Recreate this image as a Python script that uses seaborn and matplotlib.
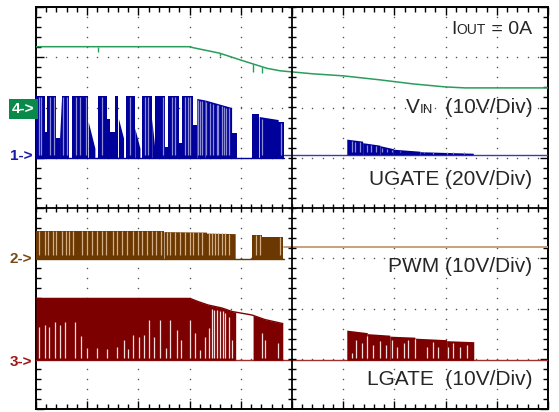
import numpy as np
import matplotlib
matplotlib.use('Agg')
import matplotlib.pyplot as plt
import seaborn as sns

# all values in scope divisions: x 0..10, y -4..4
vin_x = [0, 3.01, 3.07, 3.59, 3.98, 4.51, 4.77, 5.41, 6.00, 6.72, 7.36, 7.99, 8.38, 10]
vin_y = [3.21, 3.21, 3.19, 3.08, 2.95, 2.78, 2.73, 2.67, 2.63, 2.55, 2.47, 2.41, 2.39, 2.39]
vin_glitch_x = [1.21, 3.60, 4.24, 4.41]
vin_glitch_y = [3.10, 3.03, 2.71, 2.69]

# (x start, x end, top at start, top at end)
ugate_base = 1.0
ugate_blocks = [
    (0.00, 0.18, 2.23, 2.23), (0.18, 0.22, 1.52, 1.52), (0.22, 0.39, 2.23, 2.23),
    (0.39, 0.46, 1.39, 1.39), (0.46, 0.50, 1.39, 2.23), (0.50, 0.65, 2.23, 2.23),
    (0.70, 1.02, 2.23, 2.23), (1.02, 1.15, 1.72, 1.19), (1.22, 1.38, 2.23, 2.23),
    (1.38, 1.45, 1.78, 1.78), (1.45, 1.54, 1.52, 1.52), (1.54, 1.61, 2.23, 2.23),
    (1.61, 1.71, 1.78, 1.39), (1.76, 1.93, 2.23, 2.23), (1.93, 2.03, 1.59, 1.19),
    (2.08, 2.26, 2.23, 2.23), (2.26, 2.32, 1.78, 1.19), (2.32, 2.52, 2.23, 2.23),
    (2.52, 2.58, 1.22, 1.22), (2.58, 2.79, 2.23, 2.23), (2.79, 2.85, 1.30, 1.30),
    (2.85, 3.07, 2.23, 2.23), (3.07, 3.14, 1.65, 1.65), (3.14, 3.30, 2.18, 2.15),
    (3.30, 3.82, 2.15, 2.00), (3.82, 3.92, 1.49, 1.49), (4.21, 4.36, 1.88, 1.88),
    (4.36, 4.73, 1.82, 1.76), (4.73, 4.84, 1.72, 1.72),
]
ugate_stripes = [0.05, 0.10, 0.27, 0.35, 0.53, 0.60, 0.79, 0.86, 0.98, 1.28, 1.84, 2.13,
                 2.19, 2.49, 2.65, 2.71, 2.91, 2.96, 3.01, 3.17, 3.20, 3.25, 3.33, 3.40,
                 3.46, 3.53, 3.56, 3.63, 3.68, 3.72, 3.76, 4.42, 4.79]
ugate_r_base = 1.06
ugate_r_blocks = [(6.07, 6.38, 1.37, 1.33), (6.38, 6.72, 1.30, 1.25), (6.72, 6.98, 1.24, 1.18),
                  (6.98, 7.50, 1.17, 1.13), (7.50, 8.54, 1.12, 1.09)]
ugate_r_stripes = [6.17, 6.23, 6.33, 6.47, 6.55, 6.65, 6.75, 6.85, 6.95, 7.11, 7.24, 7.37,
                   7.57, 7.76, 8.02, 8.15, 8.35]

pwm_base = -1.02
pwm_blocks = [(0.00, 2.50, -0.46, -0.46), (2.50, 3.33, -0.47, -0.48), (3.33, 3.89, -0.50, -0.51),
              (4.22, 4.42, -0.54, -0.54), (4.42, 4.83, -0.57, -0.57)]
pwm_stripes = [0.05, 0.18, 0.24, 0.34, 0.40, 0.50, 0.59, 0.65, 0.73, 0.89, 1.00, 1.09, 1.19,
               1.28, 1.37, 1.51, 1.59, 1.67, 1.78, 1.90, 2.00, 2.08, 2.16, 2.26, 2.34, 2.45,
               2.55, 2.62, 2.71, 2.81, 2.91, 3.01, 3.07, 3.17, 3.24, 3.37, 3.43, 3.50, 3.56,
               3.63, 3.69, 3.76, 4.30, 4.37, 4.77]
pwm_r_level = -0.77

lgate_base = -3.03
lgate_top_x = [0, 3.01, 3.16, 3.36, 3.63, 3.83, 4.22, 4.47, 4.82]
lgate_top_y = [-1.80, -1.80, -1.86, -1.93, -1.99, -2.06, -2.13, -2.22, -2.30]
lgate_spans = [(0.0, 3.90), (4.24, 4.82)]
lgate_stripe_x = [0.05, 0.18, 0.26, 0.37, 0.47, 0.57, 0.77, 0.87, 0.99, 1.19, 1.39, 1.59,
                  1.71, 1.79, 1.90, 2.01, 2.10, 2.21, 2.31, 2.42, 2.54, 2.62, 2.75, 2.83,
                  3.01, 3.10, 3.20, 3.30, 3.37, 3.43, 3.48, 3.53, 3.59, 3.66, 3.70, 3.77,
                  3.82, 4.41, 4.47, 4.73]
lgate_stripe_y = [-2.36, -2.33, -2.36, -2.26, -2.33, -2.26, -2.27, -2.55, -2.79, -2.79, -2.81,
                  -2.77, -2.63, -2.81, -2.53, -2.56, -2.53, -2.23, -2.56, -2.23, -2.79, -2.23,
                  -2.43, -2.63, -2.23, -2.49, -2.83, -2.56, -2.39, -2.00, -2.02, -2.02, -2.04,
                  -2.05, -2.09, -2.16, -2.63, -2.49, -2.63, -2.69]
lgate_r_blocks = [(6.07, 6.47, -2.43, -2.48), (6.47, 6.91, -2.50, -2.53), (6.91, 7.40, -2.55, -2.57),
                  (7.40, 8.02, -2.59, -2.62), (8.02, 8.55, -2.64, -2.66)]
lgate_r_stripe_x = [6.18, 6.25, 6.36, 6.47, 6.59, 6.72, 6.84, 6.95, 7.06, 7.18, 7.27, 7.40,
                    7.63, 7.76, 7.86, 8.05, 8.15, 8.28, 8.41]
lgate_r_stripe_y = [-2.89, -2.62, -2.69, -2.55, -2.72, -2.65, -2.72, -2.62, -2.76, -2.69, -2.62,
                    -2.60, -2.76, -2.66, -2.76, -2.76, -2.69, -2.76, -2.72]

blue, blue_lt = '#00009a', '#8c8cd6'
brown, brown_lt = '#6a3800', '#d2ad85'
red, red_lt = '#7d0000', '#f3dcdc'
green = '#2a9d5c'

sns.set_style('white')
plt.rcParams['font.family'] = ['Liberation Sans', 'DejaVu Sans']

fig = plt.figure(figsize=(5.59, 4.12), dpi=100)
ax = fig.add_axes([36 / 559, 3 / 412, 512 / 559, 402 / 412])
ax.set_xlim(0, 10)
ax.set_ylim(-4, 4)


def top_at(blocks, x):
    for x0, x1, t0, t1 in blocks:
        if x0 <= x <= x1:
            return t0 + (t1 - t0) * (x - x0) / (x1 - x0)
    return None


def draw_blocks(blocks, base, color):
    for x0, x1, t0, t1 in blocks:
        ax.fill_between([x0, x1], [base, base], [t0, t1], color=color, lw=0, zorder=3)


# grid dots
for gx in [1, 2, 3, 4, 6, 7, 8, 9]:
    ys = np.arange(-4, 4.001, 0.2)
    ax.scatter(np.full(len(ys), gx), ys, s=1.2, color='#555555', lw=0, zorder=1)
for gy in [-3, -2, -1, 1, 2, 3]:
    xs = np.arange(0, 10.001, 0.2)
    ax.scatter(xs, np.full(len(xs), gy), s=1.2, color='#555555', lw=0, zorder=1)

# center cross
ax.axvline(5, color='black', lw=1.3, zorder=5)
ax.axhline(0, color='black', lw=1.3, zorder=5)
cy = np.arange(-4, 4.001, 0.2)
cx = np.arange(0, 10.001, 0.2)
ax.plot(np.full(len(cy), 5), cy, ls='none', marker='_', ms=6, mew=1, color='black', zorder=5)
ax.plot(cx, np.zeros(len(cx)), ls='none', marker='|', ms=6, mew=1, color='black', zorder=5)

# VIN
sns.lineplot(x=vin_x, y=vin_y, ax=ax, color=green, lw=1.1, sort=False, estimator=None, zorder=4)
ax.vlines(vin_glitch_x, vin_glitch_y, np.interp(vin_glitch_x, vin_x, vin_y), color=green, lw=1, zorder=4)

# UGATE
sns.lineplot(x=[0, 4.84], y=[ugate_base, ugate_base], ax=ax, color=blue, lw=1, estimator=None, zorder=3)
sns.lineplot(x=[4.84, 10], y=[ugate_r_base, ugate_r_base], ax=ax, color='#3a3ab8', lw=1, estimator=None, zorder=3)
draw_blocks(ugate_blocks, ugate_base, blue)
draw_blocks(ugate_r_blocks, ugate_r_base, blue)
for blocks, stripes, base in [(ugate_blocks, ugate_stripes, ugate_base),
                              (ugate_r_blocks, ugate_r_stripes, ugate_r_base)]:
    for s in stripes:
        t = top_at(blocks, s)
        if t is not None:
            ax.vlines(s, base + 0.06, t - 0.03, color=blue_lt, lw=0.9, zorder=3.5)

# PWM
sns.lineplot(x=[0, 4.84], y=[pwm_base, pwm_base], ax=ax, color=brown, lw=1, estimator=None, zorder=3)
sns.lineplot(x=[4.84, 10], y=[pwm_r_level, pwm_r_level], ax=ax, color='#c39a70', lw=1.3, estimator=None, zorder=3)
draw_blocks(pwm_blocks, pwm_base, brown)
for s in pwm_stripes:
    t = top_at(pwm_blocks, s)
    if t is not None:
        ax.vlines(s, pwm_base + 0.08, t, color=brown_lt, lw=0.9, zorder=3.5)

# LGATE
sns.lineplot(x=[0, 10], y=[lgate_base, lgate_base], ax=ax, color='#a03030', lw=1, estimator=None, zorder=3)
sns.lineplot(x=lgate_top_x, y=lgate_top_y, ax=ax, color=red, lw=1, sort=False, estimator=None, zorder=3)
for a, b in lgate_spans:
    xs = np.array([a] + [v for v in lgate_top_x if a < v < b] + [b])
    ax.fill_between(xs, lgate_base, np.interp(xs, lgate_top_x, lgate_top_y), color=red, lw=0, zorder=3)
ax.vlines(lgate_stripe_x, lgate_base + 0.05, lgate_stripe_y, color=red_lt, lw=0.9, zorder=3.5)
draw_blocks(lgate_r_blocks, lgate_base, red)
ax.vlines(lgate_r_stripe_x, lgate_base + 0.05, lgate_r_stripe_y, color=red_lt, lw=0.9, zorder=3.5)

# frame and ticks
ax.set_xticks(np.arange(0, 10.01, 1))
ax.set_yticks(np.arange(-4, 4.01, 1))
ax.set_xticks(np.arange(0, 10.01, 0.2), minor=True)
ax.set_yticks(np.arange(-4, 4.01, 0.2), minor=True)
ax.tick_params(which='both', direction='in', top=True, right=True, bottom=True, left=True,
               labelbottom=False, labelleft=False, color='black', width=1)
ax.tick_params(which='major', length=6)
ax.tick_params(which='minor', length=3.5)
ax.set_xlabel('')
ax.set_ylabel('')
for sp in ax.spines.values():
    sp.set_visible(True)
    sp.set_color('black')
    sp.set_linewidth(1.4)

# channel markers
ax.text(-0.03, 1.97, '4->', color='white', fontsize=11, fontweight='bold', ha='right', va='center',
        clip_on=False, bbox=dict(boxstyle='square,pad=0.2', fc='#0a8a4a', ec='none'))
ax.text(-0.07, 1.03, '1->', color='#1a1aa8', fontsize=11, fontweight='bold', ha='right', va='center', clip_on=False)
ax.text(-0.07, -1.02, '2->', color='#7a4a12', fontsize=11, fontweight='bold', ha='right', va='center', clip_on=False)
ax.text(-0.07, -3.06, '3->', color='#a01515', fontsize=11, fontweight='bold', ha='right', va='center', clip_on=False)

renderer = fig.canvas.get_renderer()


def label_parts(x, y, parts):
    # right aligned pieces on one baseline
    for txt, size in reversed(parts):
        t = ax.text(x, y, txt, fontsize=size, ha='right', va='baseline', zorder=6)
        bb = t.get_window_extent(renderer=renderer)
        x = ax.transData.inverted().transform((bb.x0, bb.y0))[0]


xr = 9.69
label_parts(xr, 3.47, [('I', 14), ('OUT', 10), (' = 0A', 14)])
label_parts(xr, 1.90, [('V', 15), ('IN', 9.5), ('  (10V/Div)', 15)])
label_parts(xr, 0.46, [('UGATE (20V/Div)', 15)])
label_parts(xr, -1.27, [('PWM (10V/Div)', 15)])
label_parts(xr, -3.52, [('LGATE  (10V/Div)', 15)])

fig.savefig('out.png', dpi=100)
